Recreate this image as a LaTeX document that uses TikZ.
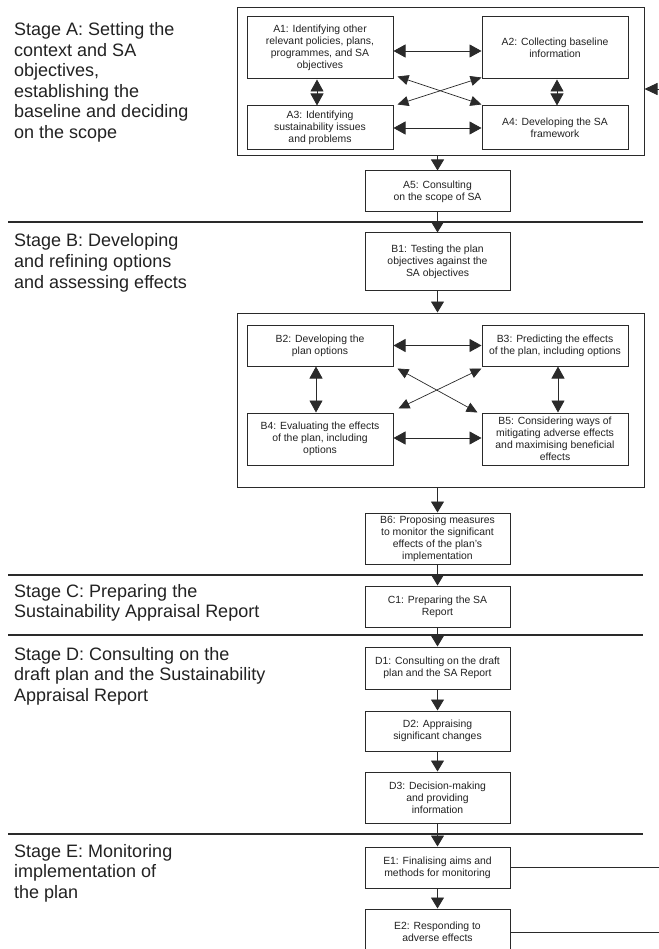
\documentclass[tikz,border=0pt]{standalone}
\usepackage{fontspec}
\setmainfont{Liberation Sans}
\usetikzlibrary{arrows.meta}
\definecolor{ink}{HTML}{2A2A2A}
\definecolor{words}{HTML}{222222}
\begin{document}
\begin{tikzpicture}[x=1pt,y=-1pt,
  box/.style={draw=ink, line width=1pt, fill=white, inner sep=0pt, align=center,
    text=words, minimum width=145pt, font=\fontsize{10.4}{12}\selectfont},
  frame/.style={draw=ink, line width=1pt, inner sep=0pt, minimum width=407pt},
  stage/.style={anchor=base west, inner sep=0pt, align=left, text=words,
    font=\fontsize{18}{20.5}\selectfont},
  sep/.style={draw=ink, line width=1.1pt},
  flow/.style={draw=ink, line width=0.9pt, -{Triangle[length=11pt,width=13pt]}},
  both/.style={draw=ink, line width=0.9pt,
    {Triangle[length=12pt,width=13pt]}-{Triangle[length=12pt,width=13pt]}},
  cross/.style={draw=ink, line width=0.7pt,
    {Triangle[length=11pt,width=10pt]}-{Triangle[length=11pt,width=10pt]}},
]
% page
\fill[white] (0,0) rectangle (658,949);
\useasboundingbox (0,0) rectangle (658,949);

% stage separators
\draw[sep] (8,222) -- (643,222);
\draw[sep] (8,575) -- (643,575);
\draw[sep] (8,635) -- (643,635);
\draw[sep] (8,834) -- (643,834);

% stage headings (placed by the baseline of their last line)
\node[stage] (stA) at (14,138.5) {Stage A: Setting the\\context and SA\\objectives,\\establishing the\\baseline and deciding\\on the scope};
\node[stage] (stB) at (14,288) {Stage B: Developing\\and refining options\\and assessing effects};
\node[stage] (stC) at (14,617.5) {Stage C: Preparing the\\Sustainability Appraisal Report};
\node[stage] (stD) at (14,701) {Stage D: Consulting on the\\draft plan and the Sustainability\\Appraisal Report};
\node[stage] (stE) at (14,898) {Stage E: Monitoring\\implementation of\\the plan};

% stage A
\node[frame, minimum height=148pt] (Aframe) at (440.5,82) {};
\node[box, minimum width=146pt, minimum height=62pt] (A1) at (320,48) {A1: Identifying other\\relevant policies, plans,\\programmes, and SA\\objectives};
\node[box, minimum width=146pt, minimum height=62pt] (A2) at (555,48) {A2: Collecting baseline\\information};
\node[box, minimum width=146pt, minimum height=44pt] (A3) at (320,128) {A3: Identifying\\sustainability issues\\and problems};
\node[box, minimum width=146pt, minimum height=44pt] (A4) at (555,128) {A4: Developing the SA\\framework};
\node[box, minimum height=41pt] (A5) at (437.5,191.5) {A5: Consulting\\on the scope of SA};

\draw[both] ([yshift=-3pt]A1.east) -- ([yshift=-3pt]A2.west);
\draw[both] (A3.east) -- (A4.west);
\draw[both] ([xshift=-3pt]A1.south) -- ([xshift=-3pt]A3.north);
\draw[both] ([xshift=2pt]A2.south) -- ([xshift=2pt]A4.north);
\draw[cross] ([shift={(4,-3)}]A1.south east) -- ([shift={(0,-1)}]A4.north west);
\draw[cross] ([shift={(4,-1)}]A3.north east) -- ([shift={(0,-2)}]A2.south west);
\draw[flow] (Aframe.south -| A5.north) -- (A5.north);

% stage B
\node[box, minimum height=57pt] (B1) at (437.5,261.5) {B1: Testing the plan\\objectives against the\\SA objectives};
\node[frame, minimum height=174pt] (Bframe) at (440.5,400) {};
\node[box, minimum width=146pt, minimum height=41pt] (B2) at (320,345.5) {B2: Developing the\\plan options};
\node[box, minimum width=146pt, minimum height=41pt] (B3) at (555,345.5) {B3: Predicting the effects\\of the plan, including options};
\node[box, minimum width=146pt, minimum height=52pt] (B4) at (320,439) {B4: Evaluating the effects\\of the plan, including\\options};
\node[box, minimum width=146pt, minimum height=52pt] (B5) at (555,439) {B5: Considering ways of\\mitigating adverse effects\\and maximising beneficial\\effects};
\node[box, minimum height=51pt] (B6) at (437.5,538.5) {B6: Proposing measures\\to monitor the significant\\effects of the plan’s\\implementation};

\draw[flow] (A5) -- (B1);
\draw[flow] (B1.south) -- (Bframe.north -| B1.south);
\draw[both] (B2.east) -- (B3.west);
\draw[both] ([yshift=1pt]B4.east) -- ([yshift=1pt]B5.west);
\draw[both] ([xshift=-4pt]B2.south) -- ([xshift=-4pt]B4.north);
\draw[both] ([xshift=3pt]B3.south) -- ([xshift=3pt]B5.north);
\draw[cross] ([shift={(4,2)}]B2.south east) -- ([shift={(-4,0)}]B5.north west);
\draw[cross] ([shift={(0,2)}]B3.south west) -- ([shift={(5,-4)}]B4.north east);
\draw[flow] (Bframe.south -| B6.north) -- (B6.north);

% stages C, D and E
\node[box, minimum height=41pt] (C1) at (437.5,606.5) {C1: Preparing the SA\\Report};
\node[box, minimum height=42pt] (D1) at (437.5,668) {D1: Consulting on the draft\\plan and the SA Report};
\node[box, minimum height=40pt] (D2) at (437.5,731) {D2: Appraising\\significant changes};
\node[box, minimum height=51pt] (D3) at (437.5,797.5) {D3: Decision-making\\and providing\\information};
\node[box, minimum height=41pt] (E1) at (437.5,867.5) {E1: Finalising aims and\\methods for monitoring};
\node[box, minimum height=46pt] (E2) at (437.5,932) {E2: Responding to\\adverse effects};

\draw[flow] (B6) -- (C1);
\draw[flow] (C1) -- (D1);
\draw[flow] (D1) -- (D2);
\draw[flow] (D2) -- (D3);
\draw[flow] (D3) -- (E1);
\draw[flow] (E1) -- (E2);

% feedback from monitoring back to stage A
\coordinate (fbE1) at (660,867.5);
\coordinate (fbE2) at (660,931);
\coordinate (fbA) at (660,89);
\draw[draw=ink, line width=1pt] (E1.east) -- (E1.east -| fbE1);
\draw[draw=ink, line width=1pt] (E2.east) -- (E2.east -| fbE2);
\draw[flow, -{Triangle[length=13pt,width=12pt]}] (fbA) -- (fbA -| Aframe.east);
\end{tikzpicture}
\end{document}
